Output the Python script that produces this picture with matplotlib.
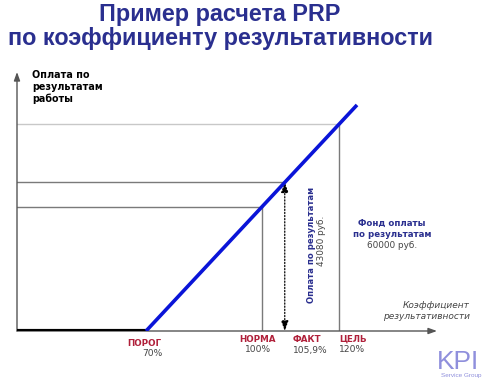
import matplotlib
matplotlib.use("Agg")
import matplotlib.pyplot as plt

# ---- data ----
point_names = ["ПОРОГ", "НОРМА", "ФАКТ", "ЦЕЛЬ"]
point_pct = [70, 100, 105.9, 120]          # коэффициент результативности, %
point_labels = ["70%", "100%", "105,9%", "120%"]
fund_total = 60000                          # фонд оплаты по результатам, руб.
fact_pay = 43080                            # оплата по результатам, руб.
line_end_pct = 124.6                        # end of the drawn blue line
axis_pct_range = (36.6, 145.3)
axis_pay_range = (0, 75070)

def pay(p):
    lo, hi = point_pct[0], point_pct[3]
    return fund_total * (p - lo) / (hi - lo)

fig = plt.figure(figsize=(4.88, 3.85), dpi=100)
fig.patch.set_facecolor("white")
ax = fig.add_axes([17/488, (385-331)/385, 420/488, 259/385])
ax.set_xlim(*axis_pct_range)
ax.set_ylim(*axis_pay_range)
ax.axis("off")

x0 = axis_pct_range[0]
xmax = axis_pct_range[1]
ymax = axis_pay_range[1]

# axes with arrows
ax.annotate("", xy=(x0, ymax), xytext=(x0, 0),
            arrowprops=dict(arrowstyle="-|>,head_length=0.5,head_width=0.18",
                            color="#555555", lw=1.0, shrinkA=0, shrinkB=0))
ax.annotate("", xy=(xmax, 0), xytext=(x0, 0),
            arrowprops=dict(arrowstyle="-|>,head_length=0.5,head_width=0.18",
                            color="#555555", lw=1.0, shrinkA=0, shrinkB=0))

# horizontal guide lines
norm_pay = pay(point_pct[1])
ax.plot([x0, point_pct[3]], [fund_total, fund_total], color="#c8c8c8", lw=1.0)
ax.plot([x0, point_pct[2]], [pay(point_pct[2]), pay(point_pct[2])], color="#7a7a7a", lw=1.0)
ax.plot([x0, point_pct[1]], [norm_pay, norm_pay], color="#7a7a7a", lw=1.0)

# vertical guide lines
ax.plot([point_pct[1], point_pct[1]], [0, norm_pay], color="#7a7a7a", lw=1.0)
ax.plot([point_pct[3], point_pct[3]], [0, fund_total], color="#7a7a7a", lw=1.0)

# dotted double arrow at fact
ax.annotate("", xy=(point_pct[2], pay(point_pct[2])), xytext=(point_pct[2], 0),
            arrowprops=dict(arrowstyle="<|-|>,head_length=0.6,head_width=0.22",
                            color="black", lw=0.9, linestyle=(0, (1, 1.5)),
                            shrinkA=0, shrinkB=0))

# payment curve
ax.plot([x0, point_pct[0]], [0, 0], color="black", lw=3.0, solid_capstyle="butt", zorder=5)
ax.plot([point_pct[0], line_end_pct], [0, pay(line_end_pct)], color="#0a14d8", lw=2.6,
        solid_capstyle="butt", zorder=5)

# point labels
red = "#b0203a"
gray = "#454545"
name_fs = 6.3
pct_fs = 6.6
fig.text(144/488, 1-344/385, point_names[0], ha="center", va="center", color=red,
         fontsize=name_fs, fontweight="bold", family="DejaVu Sans")
fig.text(152/488, 1-354/385, point_labels[0], ha="center", va="center", color=gray,
         fontsize=pct_fs, family="DejaVu Sans")
fig.text(258/488, 1-339/385, point_names[1], ha="center", va="center", color=red,
         fontsize=name_fs, fontweight="bold", family="DejaVu Sans")
fig.text(258/488, 1-350/385, point_labels[1], ha="center", va="center", color=gray,
         fontsize=pct_fs, family="DejaVu Sans")
fig.text(293/488, 1-339/385, point_names[2], ha="left", va="center", color=red,
         fontsize=name_fs, fontweight="bold", family="DejaVu Sans")
fig.text(293/488, 1-350/385, point_labels[2], ha="left", va="center", color=gray,
         fontsize=pct_fs, family="DejaVu Sans")
fig.text(339/488, 1-339/385, point_names[3], ha="left", va="center", color=red,
         fontsize=name_fs, fontweight="bold", family="DejaVu Sans")
fig.text(339/488, 1-350/385, point_labels[3], ha="left", va="center", color=gray,
         fontsize=pct_fs, family="DejaVu Sans")

# title
navy = "#2a2f8f"
fig.text(220/488, 1-14/385, "Пример расчета PRP", ha="center", va="center",
         color=navy, fontsize=16.8, fontweight="bold", family="Liberation Sans")
fig.text(220/488, 1-38/385, "по коэффициенту результативности", ha="center", va="center",
         color=navy, fontsize=16.8, fontweight="bold", family="Liberation Sans")

# y axis title
fig.text(32/488, 1-87/385, "Оплата по\nрезультатам\nработы", ha="left", va="center",
         color="black", fontsize=6.9, fontweight="bold", family="DejaVu Sans",
         linespacing=1.2)

# x axis title
fig.text(470/488, 1-311/385, "Коэффициент\nрезультативности", ha="right", va="center",
         color="#444444", fontsize=6.5, style="italic", family="DejaVu Sans",
         linespacing=1.2, multialignment="right")

# rotated fact text
fig.text(312/488, 1-245/385, "Оплата по результатам", ha="center", va="center",
         rotation=90, color="#2a2f8f", fontsize=6.1, fontweight="bold", family="DejaVu Sans")
fig.text(322/488, 1-241/385, f"{fact_pay} руб.", ha="center", va="center",
         rotation=90, color=gray, fontsize=6.4, family="DejaVu Sans")

# fund text
fig.text(392/488, 1-229/385, "Фонд оплаты\nпо результатам", ha="center", va="center",
         color="#2a2f8f", fontsize=6.2, fontweight="bold", family="DejaVu Sans",
         linespacing=1.3)
fig.text(392/488, 1-245/385, f"{fund_total} руб.", ha="center", va="center",
         color=gray, fontsize=6.4, family="DejaVu Sans")

# logo
fig.text(458/488, 1-362/385, "KPI", ha="center", va="center", color="#8f8fdc",
         fontsize=19, family="Liberation Sans")
fig.text(461/488, 1-376/385, "Service Group", ha="center", va="center", color="#8f8fdc",
         fontsize=4.6, family="Liberation Sans")

fig.savefig("out.png", dpi=100, facecolor="white")
